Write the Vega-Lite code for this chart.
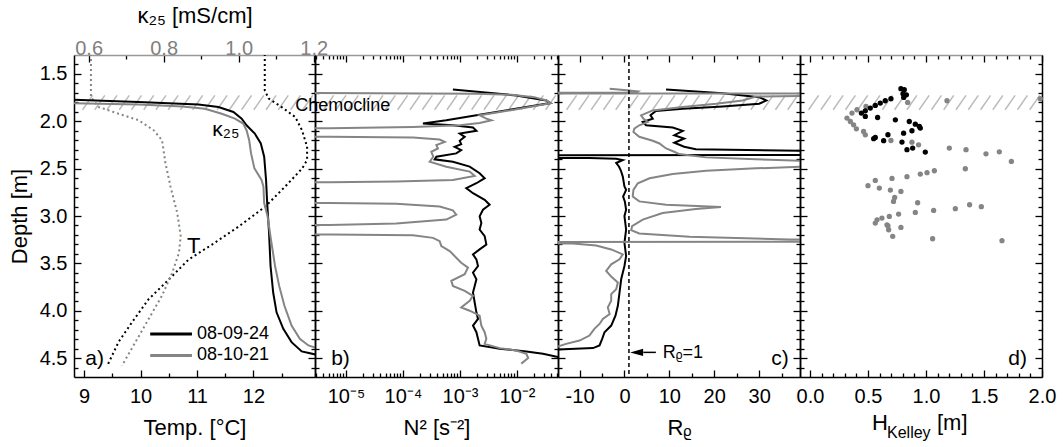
{
"$schema": "https://vega.github.io/schema/vega-lite/v6.json",
"padding": {"left": 8, "top": 4, "right": 2, "bottom": 5},
"spacing": 0,
"bounds": "flush",
"config": {
  "font": "Liberation Sans",
  "view": {"stroke": null},
  "axis": {"labelFontSize": 20, "titleFontSize": 22, "labelColor": "black", "titleColor": "black", "tickColor": "black", "domainColor": "black", "tickWidth": 1.3, "domainWidth": 1.5, "grid": false, "labelFlush": false, "labelOverlap": false, "titleFontWeight": "normal", "labelFont": "Liberation Sans", "titleFont": "Liberation Sans"},
  "text": {"font": "Liberation Sans"}
},
"datasets": {
  "hatch": [{"i":0},{"i":1},{"i":2},{"i":3},{"i":4},{"i":5},{"i":6},{"i":7},{"i":8},{"i":9},{"i":10},{"i":11},{"i":12},{"i":13},{"i":14},{"i":15},{"i":16},{"i":17},{"i":18},{"i":19}],
  "temp": [
    {"date":"08-09-24","depth":1.29,"t":12.2},{"date":"08-09-24","depth":1.675,"t":12.2},{"date":"08-09-24","depth":1.76,"t":12.27},{"date":"08-09-24","depth":1.85,"t":12.5},{"date":"08-09-24","depth":1.955,"t":12.74},{"date":"08-09-24","depth":2.094,"t":12.86},{"date":"08-09-24","depth":2.27,"t":12.95},{"date":"08-09-24","depth":2.41,"t":12.95},{"date":"08-09-24","depth":2.5,"t":12.86},{"date":"08-09-24","depth":2.69,"t":12.56},{"date":"08-09-24","depth":2.9,"t":12.21},{"date":"08-09-24","depth":3.11,"t":11.74},{"date":"08-09-24","depth":3.3,"t":11.27},{"date":"08-09-24","depth":3.46,"t":10.85},{"date":"08-09-24","depth":3.67,"t":10.5},{"date":"08-09-24","depth":3.88,"t":10.14},{"date":"08-09-24","depth":4.12,"t":9.85},{"date":"08-09-24","depth":4.33,"t":9.61},{"date":"08-09-24","depth":4.58,"t":9.41},
    {"date":"08-10-21","depth":1.29,"t":9.12},{"date":"08-10-21","depth":1.745,"t":9.12},{"date":"08-10-21","depth":1.85,"t":9.26},{"date":"08-10-21","depth":1.92,"t":9.61},{"date":"08-10-21","depth":1.99,"t":9.97},{"date":"08-10-21","depth":2.094,"t":10.23},{"date":"08-10-21","depth":2.2,"t":10.38},{"date":"08-10-21","depth":2.44,"t":10.44},{"date":"08-10-21","depth":2.69,"t":10.53},{"date":"08-10-21","depth":2.97,"t":10.65},{"date":"08-10-21","depth":3.21,"t":10.71},{"date":"08-10-21","depth":3.39,"t":10.68},{"date":"08-10-21","depth":3.6,"t":10.56},{"date":"08-10-21","depth":3.84,"t":10.38},{"date":"08-10-21","depth":4.09,"t":10.14},{"date":"08-10-21","depth":4.33,"t":9.91},{"date":"08-10-21","depth":4.58,"t":9.67}
  ],
  "kappa": [
    {"date":"08-09-24","depth":1.773,"k":0.555},{"date":"08-09-24","depth":1.797,"k":0.733},{"date":"08-09-24","depth":1.822,"k":0.893},{"date":"08-09-24","depth":1.85,"k":0.946},{"date":"08-09-24","depth":1.902,"k":0.986},{"date":"08-09-24","depth":1.972,"k":1.008},{"date":"08-09-24","depth":2.042,"k":1.021},{"date":"08-09-24","depth":2.129,"k":1.043},{"date":"08-09-24","depth":2.234,"k":1.059},{"date":"08-09-24","depth":2.374,"k":1.068},{"date":"08-09-24","depth":2.619,"k":1.073},{"date":"08-09-24","depth":2.864,"k":1.076},{"date":"08-09-24","depth":3.178,"k":1.081},{"date":"08-09-24","depth":3.528,"k":1.085},{"date":"08-09-24","depth":3.808,"k":1.092},{"date":"08-09-24","depth":4.017,"k":1.101},{"date":"08-09-24","depth":4.192,"k":1.119},{"date":"08-09-24","depth":4.332,"k":1.141},{"date":"08-09-24","depth":4.43,"k":1.168},{"date":"08-09-24","depth":4.465,"k":1.208},
    {"date":"08-10-21","depth":1.808,"k":0.555},{"date":"08-10-21","depth":1.822,"k":0.733},{"date":"08-10-21","depth":1.845,"k":0.85},{"date":"08-10-21","depth":1.867,"k":0.91},{"date":"08-10-21","depth":1.92,"k":0.955},{"date":"08-10-21","depth":1.972,"k":0.99},{"date":"08-10-21","depth":2.024,"k":1.012},{"date":"08-10-21","depth":2.094,"k":1.021},{"date":"08-10-21","depth":2.199,"k":1.028},{"date":"08-10-21","depth":2.339,"k":1.033},{"date":"08-10-21","depth":2.497,"k":1.042},{"date":"08-10-21","depth":2.619,"k":1.061},{"date":"08-10-21","depth":2.689,"k":1.066},{"date":"08-10-21","depth":2.864,"k":1.068},{"date":"08-10-21","depth":3.003,"k":1.077},{"date":"08-10-21","depth":3.248,"k":1.086},{"date":"08-10-21","depth":3.528,"k":1.097},{"date":"08-10-21","depth":3.738,"k":1.108},{"date":"08-10-21","depth":3.948,"k":1.122},{"date":"08-10-21","depth":4.157,"k":1.141},{"date":"08-10-21","depth":4.297,"k":1.163},{"date":"08-10-21","depth":4.367,"k":1.186},{"date":"08-10-21","depth":4.395,"k":1.208}
  ],
  "n2": [
    {"date":"08-09-24","depth":1.664,"n2":7.5e-4},{"date":"08-09-24","depth":1.727,"n2":9.7e-3},{"date":"08-09-24","depth":1.78,"n2":0.0327},{"date":"08-09-24","depth":1.808,"n2":0.0385},{"date":"08-09-24","depth":1.85,"n2":0.0146},{"date":"08-09-24","depth":1.937,"n2":1.94e-3},{"date":"08-09-24","depth":1.99,"n2":5.75e-4},{"date":"08-09-24","depth":2.024,"n2":2.24e-4},{"date":"08-09-24","depth":2.042,"n2":7.5e-4},{"date":"08-09-24","depth":2.066,"n2":1.69e-3},{"date":"08-09-24","depth":2.101,"n2":1.94e-3},{"date":"08-09-24","depth":2.129,"n2":9.9e-4},{"date":"08-09-24","depth":2.164,"n2":1.21e-3},{"date":"08-09-24","depth":2.206,"n2":9.9e-4},{"date":"08-09-24","depth":2.241,"n2":1.05e-3},{"date":"08-09-24","depth":2.269,"n2":8.05e-4},{"date":"08-09-24","depth":2.304,"n2":1.05e-3},{"date":"08-09-24","depth":2.339,"n2":8.6e-4},{"date":"08-09-24","depth":2.374,"n2":3.85e-4},{"date":"08-09-24","depth":2.402,"n2":3.6e-4},{"date":"08-09-24","depth":2.427,"n2":7.5e-4},{"date":"08-09-24","depth":2.479,"n2":1.48e-3},{"date":"08-09-24","depth":2.549,"n2":2.21e-3},{"date":"08-09-24","depth":2.601,"n2":2.71e-3},{"date":"08-09-24","depth":2.654,"n2":1.94e-3},{"date":"08-09-24","depth":2.706,"n2":1.29e-3},{"date":"08-09-24","depth":2.759,"n2":1.69e-3},{"date":"08-09-24","depth":2.829,"n2":2.71e-3},{"date":"08-09-24","depth":2.881,"n2":3.31e-3},{"date":"08-09-24","depth":2.934,"n2":2.53e-3},{"date":"08-09-24","depth":3.003,"n2":2.21e-3},{"date":"08-09-24","depth":3.073,"n2":2.37e-3},{"date":"08-09-24","depth":3.143,"n2":2.21e-3},{"date":"08-09-24","depth":3.213,"n2":2.71e-3},{"date":"08-09-24","depth":3.301,"n2":2.9e-3},{"date":"08-09-24","depth":3.353,"n2":2.21e-3},{"date":"08-09-24","depth":3.406,"n2":1.69e-3},{"date":"08-09-24","depth":3.458,"n2":1.94e-3},{"date":"08-09-24","depth":3.528,"n2":2.07e-3},{"date":"08-09-24","depth":3.598,"n2":1.69e-3},{"date":"08-09-24","depth":3.668,"n2":1.94e-3},{"date":"08-09-24","depth":3.738,"n2":1.81e-3},{"date":"08-09-24","depth":3.808,"n2":1.69e-3},{"date":"08-09-24","depth":3.913,"n2":1.81e-3},{"date":"08-09-24","depth":4.017,"n2":1.94e-3},{"date":"08-09-24","depth":4.087,"n2":2.07e-3},{"date":"08-09-24","depth":4.157,"n2":1.69e-3},{"date":"08-09-24","depth":4.227,"n2":1.94e-3},{"date":"08-09-24","depth":4.297,"n2":2.07e-3},{"date":"08-09-24","depth":4.367,"n2":2.21e-3},{"date":"08-09-24","depth":4.402,"n2":4.97e-3},{"date":"08-09-24","depth":4.43,"n2":0.0146},{"date":"08-09-24","depth":4.455,"n2":0.0286},{"date":"08-09-24","depth":4.49,"n2":0.0524},{"date":"08-09-24","depth":4.5,"n2":0.06},
    {"date":"08-10-21","depth":1.7,"n2":1e-8},{"date":"08-10-21","depth":1.703,"n2":3e-5},{"date":"08-10-21","depth":1.708,"n2":2e-3},{"date":"08-10-21","depth":1.72,"n2":8e-3},{"date":"08-10-21","depth":1.745,"n2":0.02},{"date":"08-10-21","depth":1.78,"n2":0.033},{"date":"08-10-21","depth":1.808,"n2":0.0385},{"date":"08-10-21","depth":1.85,"n2":0.0166},{"date":"08-10-21","depth":1.902,"n2":4.97e-3},{"date":"08-10-21","depth":1.937,"n2":2.21e-3},{"date":"08-10-21","depth":1.972,"n2":2.9e-3},{"date":"08-10-21","depth":1.99,"n2":3.55e-3},{"date":"08-10-21","depth":2.017,"n2":2.21e-3},{"date":"08-10-21","depth":2.042,"n2":9.9e-4},{"date":"08-10-21","depth":2.059,"n2":1.5e-4},{"date":"08-10-21","depth":2.073,"n2":5.2e-6},{"date":"08-10-21","depth":2.077,"n2":1e-8},{"date":"08-10-21","depth":2.16,"n2":1e-8},{"date":"08-10-21","depth":2.164,"n2":5.2e-6},{"date":"08-10-21","depth":2.171,"n2":1.5e-4},{"date":"08-10-21","depth":2.192,"n2":4.4e-4},{"date":"08-10-21","depth":2.217,"n2":5.4e-4},{"date":"08-10-21","depth":2.252,"n2":3.85e-4},{"date":"08-10-21","depth":2.287,"n2":4.1e-4},{"date":"08-10-21","depth":2.322,"n2":3.14e-4},{"date":"08-10-21","depth":2.374,"n2":3.4e-4},{"date":"08-10-21","depth":2.427,"n2":2.94e-4},{"date":"08-10-21","depth":2.479,"n2":5.75e-4},{"date":"08-10-21","depth":2.531,"n2":1.48e-3},{"date":"08-10-21","depth":2.577,"n2":1.81e-3},{"date":"08-10-21","depth":2.619,"n2":7.5e-4},{"date":"08-10-21","depth":2.636,"n2":7.6e-5},{"date":"08-10-21","depth":2.643,"n2":5.2e-6},{"date":"08-10-21","depth":2.647,"n2":1e-8},{"date":"08-10-21","depth":2.86,"n2":1e-8},{"date":"08-10-21","depth":2.864,"n2":5.2e-6},{"date":"08-10-21","depth":2.871,"n2":7.6e-5},{"date":"08-10-21","depth":2.899,"n2":4.4e-4},{"date":"08-10-21","depth":2.941,"n2":7.5e-4},{"date":"08-10-21","depth":2.986,"n2":8.6e-4},{"date":"08-10-21","depth":3.038,"n2":5.75e-4},{"date":"08-10-21","depth":3.08,"n2":7.6e-5},{"date":"08-10-21","depth":3.094,"n2":5.2e-6},{"date":"08-10-21","depth":3.098,"n2":1e-8},{"date":"08-10-21","depth":3.19,"n2":1e-8},{"date":"08-10-21","depth":3.196,"n2":5.2e-6},{"date":"08-10-21","depth":3.203,"n2":1.5e-4},{"date":"08-10-21","depth":3.231,"n2":3.36e-4},{"date":"08-10-21","depth":3.266,"n2":4.4e-4},{"date":"08-10-21","depth":3.318,"n2":4.7e-4},{"date":"08-10-21","depth":3.371,"n2":6.6e-4},{"date":"08-10-21","depth":3.44,"n2":8.6e-4},{"date":"08-10-21","depth":3.493,"n2":1.05e-3},{"date":"08-10-21","depth":3.545,"n2":1.38e-3},{"date":"08-10-21","depth":3.615,"n2":1.21e-3},{"date":"08-10-21","depth":3.685,"n2":7.05e-4},{"date":"08-10-21","depth":3.738,"n2":7.5e-4},{"date":"08-10-21","depth":3.79,"n2":1.21e-3},{"date":"08-10-21","depth":3.843,"n2":1.69e-3},{"date":"08-10-21","depth":3.895,"n2":1.48e-3},{"date":"08-10-21","depth":3.965,"n2":1.05e-3},{"date":"08-10-21","depth":4.0,"n2":1.48e-3},{"date":"08-10-21","depth":4.052,"n2":2.21e-3},{"date":"08-10-21","depth":4.157,"n2":2.37e-3},{"date":"08-10-21","depth":4.227,"n2":2.71e-3},{"date":"08-10-21","depth":4.297,"n2":2.9e-3},{"date":"08-10-21","depth":4.35,"n2":2.71e-3},{"date":"08-10-21","depth":4.395,"n2":4.97e-3},{"date":"08-10-21","depth":4.42,"n2":9.7e-3},{"date":"08-10-21","depth":4.455,"n2":0.0146},{"date":"08-10-21","depth":4.5,"n2":0.0157},{"date":"08-10-21","depth":4.559,"n2":0.0119}
  ],
  "rrho": [
    {"date":"08-09-24","depth":1.664,"r":9.27},{"date":"08-09-24","depth":1.703,"r":21.86},{"date":"08-09-24","depth":1.745,"r":30.0},{"date":"08-09-24","depth":1.78,"r":31.6},{"date":"08-09-24","depth":1.815,"r":30.0},{"date":"08-09-24","depth":1.843,"r":21.86},{"date":"08-09-24","depth":1.867,"r":13.0},{"date":"08-09-24","depth":1.892,"r":7.0},{"date":"08-09-24","depth":1.937,"r":5.8},{"date":"08-09-24","depth":1.972,"r":6.3},{"date":"08-09-24","depth":2.007,"r":4.07},{"date":"08-09-24","depth":2.042,"r":4.82},{"date":"08-09-24","depth":2.066,"r":10.75},{"date":"08-09-24","depth":2.101,"r":13.0},{"date":"08-09-24","depth":2.147,"r":11.1},{"date":"08-09-24","depth":2.182,"r":13.3},{"date":"08-09-24","depth":2.227,"r":11.1},{"date":"08-09-24","depth":2.269,"r":13.3},{"date":"08-09-24","depth":2.294,"r":15.9},{"date":"08-09-24","depth":2.311,"r":39.6},{"date":"08-09-24","depth":2.315,"r":80},{"date":"08-09-24","depth":2.355,"r":80},{"date":"08-09-24","depth":2.36,"r":-60},{"date":"08-09-24","depth":2.383,"r":-60},{"date":"08-09-24","depth":2.388,"r":-7.8},{"date":"08-09-24","depth":2.395,"r":-1.84},{"date":"08-09-24","depth":2.409,"r":-0.37},{"date":"08-09-24","depth":2.44,"r":-1.84},{"date":"08-09-24","depth":2.48,"r":-1.2},{"date":"08-09-24","depth":2.52,"r":-0.8},{"date":"08-09-24","depth":2.584,"r":-0.37},{"date":"08-09-24","depth":2.689,"r":0.0},{"date":"08-09-24","depth":2.724,"r":0.37},{"date":"08-09-24","depth":2.794,"r":-0.3},{"date":"08-09-24","depth":2.85,"r":0.1},{"date":"08-09-24","depth":2.934,"r":0.37},{"date":"08-09-24","depth":3.0,"r":0.0},{"date":"08-09-24","depth":3.143,"r":0.37},{"date":"08-09-24","depth":3.283,"r":0.0},{"date":"08-09-24","depth":3.423,"r":0.37},{"date":"08-09-24","depth":3.528,"r":0.0},{"date":"08-09-24","depth":3.668,"r":-0.73},{"date":"08-09-24","depth":3.808,"r":-1.1},{"date":"08-09-24","depth":3.948,"r":-1.47},{"date":"08-09-24","depth":4.052,"r":-2.0},{"date":"08-09-24","depth":4.157,"r":-2.95},{"date":"08-09-24","depth":4.227,"r":-4.44},{"date":"08-09-24","depth":4.297,"r":-4.96},{"date":"08-09-24","depth":4.367,"r":-5.55},{"date":"08-09-24","depth":4.395,"r":-7.0},{"date":"08-09-24","depth":4.409,"r":-15.2},{"date":"08-09-24","depth":4.412,"r":-20},
    {"date":"08-10-21","depth":1.657,"r":-3.3},{"date":"08-10-21","depth":1.672,"r":0.5},{"date":"08-10-21","depth":1.685,"r":3.0},{"date":"08-10-21","depth":1.698,"r":2.5},{"date":"08-10-21","depth":1.7,"r":-60},{"date":"08-10-21","depth":1.705,"r":-60},{"date":"08-10-21","depth":1.708,"r":80},{"date":"08-10-21","depth":1.715,"r":80},{"date":"08-10-21","depth":1.738,"r":29.3},{"date":"08-10-21","depth":1.78,"r":26.3},{"date":"08-10-21","depth":1.815,"r":20.4},{"date":"08-10-21","depth":1.85,"r":13.0},{"date":"08-10-21","depth":1.885,"r":6.3},{"date":"08-10-21","depth":1.937,"r":3.7},{"date":"08-10-21","depth":1.972,"r":4.2},{"date":"08-10-21","depth":2.007,"r":5.2},{"date":"08-10-21","depth":2.042,"r":3.3},{"date":"08-10-21","depth":2.077,"r":2.2},{"date":"08-10-21","depth":2.112,"r":2.0},{"date":"08-10-21","depth":2.164,"r":3.3},{"date":"08-10-21","depth":2.206,"r":6.3},{"date":"08-10-21","depth":2.234,"r":7.8},{"date":"08-10-21","depth":2.287,"r":9.27},{"date":"08-10-21","depth":2.322,"r":11.1},{"date":"08-10-21","depth":2.346,"r":12.2},{"date":"08-10-21","depth":2.381,"r":18.2},{"date":"08-10-21","depth":2.402,"r":29.3},{"date":"08-10-21","depth":2.416,"r":39.6},{"date":"08-10-21","depth":2.42,"r":80},{"date":"08-10-21","depth":2.475,"r":80},{"date":"08-10-21","depth":2.479,"r":39.6},{"date":"08-10-21","depth":2.497,"r":29.3},{"date":"08-10-21","depth":2.521,"r":18.2},{"date":"08-10-21","depth":2.556,"r":10.75},{"date":"08-10-21","depth":2.601,"r":5.6},{"date":"08-10-21","depth":2.654,"r":2.97},{"date":"08-10-21","depth":2.724,"r":2.0},{"date":"08-10-21","depth":2.794,"r":1.85},{"date":"08-10-21","depth":2.846,"r":3.3},{"date":"08-10-21","depth":2.881,"r":9.27},{"date":"08-10-21","depth":2.906,"r":21.5},{"date":"08-10-21","depth":2.927,"r":15.9},{"date":"08-10-21","depth":2.969,"r":8.5},{"date":"08-10-21","depth":3.038,"r":4.07},{"date":"08-10-21","depth":3.108,"r":1.7},{"date":"08-10-21","depth":3.15,"r":1.5},{"date":"08-10-21","depth":3.185,"r":3.3},{"date":"08-10-21","depth":3.22,"r":14.5},{"date":"08-10-21","depth":3.248,"r":36.7},{"date":"08-10-21","depth":3.25,"r":80},{"date":"08-10-21","depth":3.27,"r":80},{"date":"08-10-21","depth":3.275,"r":-60},{"date":"08-10-21","depth":3.285,"r":-60},{"date":"08-10-21","depth":3.29,"r":-11.5},{"date":"08-10-21","depth":3.311,"r":-6.3},{"date":"08-10-21","depth":3.353,"r":-2.95},{"date":"08-10-21","depth":3.406,"r":-0.37},{"date":"08-10-21","depth":3.458,"r":-1.1},{"date":"08-10-21","depth":3.51,"r":-2.95},{"date":"08-10-21","depth":3.58,"r":-4.07},{"date":"08-10-21","depth":3.64,"r":-2.95},{"date":"08-10-21","depth":3.703,"r":-1.47},{"date":"08-10-21","depth":3.773,"r":-1.84},{"date":"08-10-21","depth":3.825,"r":-2.95},{"date":"08-10-21","depth":3.895,"r":-2.95},{"date":"08-10-21","depth":3.965,"r":-3.7},{"date":"08-10-21","depth":4.035,"r":-3.3},{"date":"08-10-21","depth":4.087,"r":-4.81},{"date":"08-10-21","depth":4.14,"r":-5.55},{"date":"08-10-21","depth":4.192,"r":-6.7},{"date":"08-10-21","depth":4.262,"r":-7.8},{"date":"08-10-21","depth":4.315,"r":-10.0},{"date":"08-10-21","depth":4.35,"r":-13.0},{"date":"08-10-21","depth":4.385,"r":-15.2},{"date":"08-10-21","depth":4.39,"r":-20}
  ],
  "hk": [
    {"date":"08-10-21","depth":1.762,"h":1.985},{"date":"08-10-21","depth":1.783,"h":1.181},{"date":"08-10-21","depth":1.801,"h":0.842},{"date":"08-10-21","depth":1.843,"h":0.483},{"date":"08-10-21","depth":1.878,"h":0.405},{"date":"08-10-21","depth":1.913,"h":0.362},{"date":"08-10-21","depth":1.966,"h":0.319},{"date":"08-10-21","depth":2.002,"h":0.348},{"date":"08-10-21","depth":2.037,"h":0.376},{"date":"08-10-21","depth":2.079,"h":0.4},{"date":"08-10-21","depth":2.107,"h":0.462},{"date":"08-10-21","depth":2.143,"h":0.477},{"date":"08-10-21","depth":2.203,"h":0.698},{"date":"08-10-21","depth":2.22,"h":0.879},{"date":"08-10-21","depth":2.248,"h":0.936},{"date":"08-10-21","depth":2.283,"h":1.201},{"date":"08-10-21","depth":2.3,"h":1.345},{"date":"08-10-21","depth":2.343,"h":1.517},{"date":"08-10-21","depth":2.322,"h":1.632},{"date":"08-10-21","depth":2.424,"h":1.736},{"date":"08-10-21","depth":2.501,"h":1.339},{"date":"08-10-21","depth":2.522,"h":1.072},{"date":"08-10-21","depth":2.543,"h":1.009},{"date":"08-10-21","depth":2.557,"h":0.951},{"date":"08-10-21","depth":2.585,"h":0.836},{"date":"08-10-21","depth":2.603,"h":0.707},{"date":"08-10-21","depth":2.624,"h":0.563},{"date":"08-10-21","depth":2.68,"h":0.5},{"date":"08-10-21","depth":2.705,"h":0.598},{"date":"08-10-21","depth":2.726,"h":0.693},{"date":"08-10-21","depth":2.74,"h":0.784},{"date":"08-10-21","depth":2.804,"h":0.73},{"date":"08-10-21","depth":2.846,"h":0.72},{"date":"08-10-21","depth":2.86,"h":0.928},{"date":"08-10-21","depth":2.962,"h":0.908},{"date":"08-10-21","depth":2.941,"h":1.066},{"date":"08-10-21","depth":2.923,"h":1.253},{"date":"08-10-21","depth":2.881,"h":1.376},{"date":"08-10-21","depth":2.902,"h":1.477},{"date":"08-10-21","depth":2.98,"h":0.764},{"date":"08-10-21","depth":3.005,"h":0.684},{"date":"08-10-21","depth":3.022,"h":0.62},{"date":"08-10-21","depth":3.04,"h":0.578},{"date":"08-10-21","depth":3.075,"h":0.563},{"date":"08-10-21","depth":3.093,"h":0.664},{"date":"08-10-21","depth":3.104,"h":0.672},{"date":"08-10-21","depth":3.121,"h":0.784},{"date":"08-10-21","depth":3.145,"h":0.678},{"date":"08-10-21","depth":3.215,"h":0.713},{"date":"08-10-21","depth":3.24,"h":1.057},{"date":"08-10-21","depth":3.261,"h":1.655},
    {"date":"08-09-24","depth":1.656,"h":0.784},{"date":"08-09-24","depth":1.667,"h":0.813},{"date":"08-09-24","depth":1.709,"h":0.802},{"date":"08-09-24","depth":1.72,"h":0.831},{"date":"08-09-24","depth":1.748,"h":0.808},{"date":"08-09-24","depth":1.762,"h":0.698},{"date":"08-09-24","depth":1.783,"h":0.649},{"date":"08-09-24","depth":1.808,"h":0.606},{"date":"08-09-24","depth":1.832,"h":0.563},{"date":"08-09-24","depth":1.86,"h":0.52},{"date":"08-09-24","depth":1.889,"h":0.477},{"date":"08-09-24","depth":1.913,"h":0.443},{"date":"08-09-24","depth":1.949,"h":0.477},{"date":"08-09-24","depth":1.96,"h":0.583},{"date":"08-09-24","depth":1.984,"h":0.736},{"date":"08-09-24","depth":2.002,"h":0.856},{"date":"08-09-24","depth":2.03,"h":0.908},{"date":"08-09-24","depth":2.054,"h":0.943},{"date":"08-09-24","depth":2.072,"h":0.951},{"date":"08-09-24","depth":2.1,"h":0.879},{"date":"08-09-24","depth":2.125,"h":0.807},{"date":"08-09-24","depth":2.142,"h":0.672},{"date":"08-09-24","depth":2.17,"h":0.563},{"date":"08-09-24","depth":2.184,"h":0.549},{"date":"08-09-24","depth":2.205,"h":0.635},{"date":"08-09-24","depth":2.219,"h":0.793},{"date":"08-09-24","depth":2.283,"h":0.885},{"date":"08-09-24","depth":2.3,"h":0.836},{"date":"08-09-24","depth":2.325,"h":0.994}
  ]
},
"hconcat": [
  {
    "width": 241, "height": 322,
    "layer": [
      {"data": {"name": "hatch"}, "mark": {"type": "rule", "color": "#bbbbbb", "strokeWidth": 1.5, "x2Offset": 10, "clip": true},
       "encoding": {"x": {"field": "i", "type": "quantitative", "scale": {"domain": [-0.7, 19], "nice": false, "zero": false}, "axis": null}, "x2": {"field": "i"},
        "y": {"datum": 1.878, "type": "quantitative", "scale": {"domain": [1.3, 4.7], "reverse": true, "nice": false, "zero": false}, "axis": null}, "y2": {"datum": 1.727}}},
      {"layer": [
        {"data": {"name": "temp"}, "mark": {"type": "line", "strokeDash": [2, 3], "strokeWidth": 2, "clip": true},
         "encoding": {
          "x": {"field": "t", "type": "quantitative", "scale": {"domain": [8.82, 13.09], "nice": false, "zero": false},
                "axis": {"orient": "bottom", "title": "Temp. [°C]", "values": [9, 9.5, 10, 10.5, 11, 11.5, 12, 12.5], "labelExpr": "datum.value % 1 == 0 ? format(datum.value, 'd') : ''", "tickSize": {"condition": {"test": "datum.value % 1 == 0", "value": -7}, "value": -4}, "labelPadding": 16, "titlePadding": 8}},
          "y": {"field": "depth", "type": "quantitative", "scale": {"domain": [1.3, 4.7], "reverse": true, "nice": false, "zero": false},
                "axis": {"orient": "left", "title": "Depth [m]", "values": [1.4,1.5,1.6,1.7,1.8,1.9,2.0,2.1,2.2,2.3,2.4,2.5,2.6,2.7,2.8,2.9,3.0,3.1,3.2,3.3,3.4,3.5,3.6,3.7,3.8,3.9,4.0,4.1,4.2,4.3,4.4,4.5,4.6], "labelExpr": "round(datum.value*10) % 5 == 0 ? format(datum.value, '.1f') : ''", "tickSize": {"condition": {"test": "round(datum.value*10) % 5 == 0", "value": -7}, "value": -4}, "labelPadding": 14, "titlePadding": 8}},
          "color": {"field": "date", "type": "nominal", "scale": {"domain": ["08-09-24", "08-10-21"], "range": ["#000000", "#858585"]}, "legend": null},
          "order": {"value": null}
         }},
        {"data": {"values": [{}]}, "mark": {"type": "text", "fontSize": 21, "align": "left", "baseline": "alphabetic"},
         "encoding": {"x": {"datum": 11.27, "axis": null}, "y": {"datum": 2.156, "axis": null}, "text": {"value": "κ₂₅"}}},
        {"data": {"values": [{}]}, "mark": {"type": "text", "fontSize": 22, "align": "left", "baseline": "alphabetic"},
         "encoding": {"x": {"datum": 10.82, "axis": null}, "y": {"datum": 3.39, "axis": null}, "text": {"value": "T"}}},
        {"data": {"values": [{}]}, "mark": {"type": "text", "fontSize": 21, "align": "left", "baseline": "alphabetic"},
         "encoding": {"x": {"datum": 9.02, "axis": null}, "y": {"datum": 4.571, "axis": null}, "text": {"value": "a)"}}},
        {"data": {"values": [{}]}, "mark": {"type": "rule", "color": "#000000", "strokeWidth": 3},
         "encoding": {"x": {"datum": 10.17, "axis": null}, "x2": {"datum": 10.91}, "y": {"datum": 4.245, "axis": null}}},
        {"data": {"values": [{}]}, "mark": {"type": "rule", "color": "#858585", "strokeWidth": 3},
         "encoding": {"x": {"datum": 10.17, "axis": null}, "x2": {"datum": 10.91}, "y": {"datum": 4.472, "axis": null}}},
        {"data": {"values": [{}]}, "mark": {"type": "text", "fontSize": 18, "align": "left", "baseline": "middle"},
         "encoding": {"x": {"datum": 11.0, "axis": null}, "y": {"datum": 4.245, "axis": null}, "text": {"value": "08-09-24"}}},
        {"data": {"values": [{}]}, "mark": {"type": "text", "fontSize": 18, "align": "left", "baseline": "middle"},
         "encoding": {"x": {"datum": 11.0, "axis": null}, "y": {"datum": 4.472, "axis": null}, "text": {"value": "08-10-21"}}}
      ], "resolve": {"axis": {"x": "independent", "y": "independent"}}},
      {"data": {"name": "kappa"}, "mark": {"type": "line", "strokeWidth": 2, "clip": true},
       "encoding": {
        "x": {"field": "k", "type": "quantitative", "scale": {"domain": [0.561, 1.2035], "nice": false, "zero": false},
              "axis": {"orient": "top", "title": "κ₂₅ [mS/cm]", "values": [0.6, 0.7, 0.8, 0.9, 1.0, 1.1, 1.2], "labelExpr": "round(datum.value*10) % 2 == 0 ? format(datum.value, '.1f') : ''", "tickSize": {"condition": {"test": "round(datum.value*10) % 2 == 0", "value": -7}, "value": -4}, "labelPadding": 4, "titlePadding": 8, "labelColor": "#7f7f7f", "domainColor": "#999999"}},
        "y": {"field": "depth", "type": "quantitative", "scale": {"domain": [1.3, 4.7], "reverse": true, "nice": false, "zero": false},
              "axis": {"orient": "right", "title": null, "labels": false, "values": [1.4,1.5,1.6,1.7,1.8,1.9,2.0,2.1,2.2,2.3,2.4,2.5,2.6,2.7,2.8,2.9,3.0,3.1,3.2,3.3,3.4,3.5,3.6,3.7,3.8,3.9,4.0,4.1,4.2,4.3,4.4,4.5,4.6], "tickSize": {"condition": {"test": "round(datum.value*10) % 5 == 0", "value": -7}, "value": -4}}},
        "color": {"field": "date", "type": "nominal", "scale": {"domain": ["08-09-24", "08-10-21"], "range": ["#000000", "#858585"]}, "legend": null},
        "order": {"value": null}
       }}
    ],
    "resolve": {"scale": {"x": "independent"}, "axis": {"x": "independent", "y": "independent"}}
  },
  {
    "width": 243, "height": 322,
    "layer": [
      {"data": {"name": "hatch"}, "mark": {"type": "rule", "color": "#bbbbbb", "strokeWidth": 1.5, "x2Offset": 10, "clip": true},
       "encoding": {"x": {"field": "i", "type": "quantitative", "scale": {"domain": [-0.7, 19], "nice": false, "zero": false}, "axis": null}, "x2": {"field": "i"},
        "y": {"datum": 1.878, "type": "quantitative", "scale": {"domain": [1.3, 4.7], "reverse": true, "nice": false, "zero": false}, "axis": null}, "y2": {"datum": 1.727}}},
      {"layer": [
        {"data": {"name": "n2"}, "mark": {"type": "line", "strokeWidth": 2, "clip": true},
         "encoding": {
          "x": {"field": "n2", "type": "quantitative", "scale": {"type": "log", "domain": [2.86e-6, 0.0524], "nice": false},
                "axis": {"orient": "bottom", "title": "N² [s⁻²]", "values": [3e-6,4e-6,5e-6,6e-6,7e-6,8e-6,9e-6,1e-5,2e-5,3e-5,4e-5,5e-5,6e-5,7e-5,8e-5,9e-5,1e-4,2e-4,3e-4,4e-4,5e-4,6e-4,7e-4,8e-4,9e-4,1e-3,2e-3,3e-3,4e-3,5e-3,6e-3,7e-3,8e-3,9e-3,1e-2,2e-2,3e-2,4e-2,5e-2], "labelExpr": "abs(datum.value-1e-5)<1e-10 ? '10⁻⁵' : abs(datum.value-1e-4)<1e-9 ? '10⁻⁴' : abs(datum.value-1e-3)<1e-8 ? '10⁻³' : abs(datum.value-1e-2)<1e-7 ? '10⁻²' : ''", "tickSize": {"condition": {"test": "abs(log(datum.value)/LN10 - round(log(datum.value)/LN10)) < 0.001", "value": -7}, "value": -4}, "labelPadding": 16, "titlePadding": 8}},
          "y": {"field": "depth", "type": "quantitative", "scale": {"domain": [1.3, 4.7], "reverse": true, "nice": false, "zero": false},
                "axis": {"orient": "left", "title": null, "labels": false, "values": [1.4,1.5,1.6,1.7,1.8,1.9,2.0,2.1,2.2,2.3,2.4,2.5,2.6,2.7,2.8,2.9,3.0,3.1,3.2,3.3,3.4,3.5,3.6,3.7,3.8,3.9,4.0,4.1,4.2,4.3,4.4,4.5,4.6], "tickSize": {"condition": {"test": "round(datum.value*10) % 5 == 0", "value": -7}, "value": -4}}},
          "color": {"field": "date", "type": "nominal", "scale": {"domain": ["08-09-24", "08-10-21"], "range": ["#000000", "#858585"]}, "legend": null},
          "order": {"value": null}
         }},
        {"data": {"name": "n2"}, "mark": {"type": "point", "opacity": 0},
         "encoding": {
          "x": {"field": "n2", "type": "quantitative", "scale": {"type": "log", "domain": [2.86e-6, 0.0524], "nice": false},
                "axis": {"orient": "top", "title": null, "labels": false, "domainColor": "#999999", "values": [3e-6,4e-6,5e-6,6e-6,7e-6,8e-6,9e-6,1e-5,2e-5,3e-5,4e-5,5e-5,6e-5,7e-5,8e-5,9e-5,1e-4,2e-4,3e-4,4e-4,5e-4,6e-4,7e-4,8e-4,9e-4,1e-3,2e-3,3e-3,4e-3,5e-3,6e-3,7e-3,8e-3,9e-3,1e-2,2e-2,3e-2,4e-2,5e-2], "tickSize": {"condition": {"test": "abs(log(datum.value)/LN10 - round(log(datum.value)/LN10)) < 0.001", "value": -7}, "value": -4}}},
          "y": {"field": "depth", "type": "quantitative", "scale": {"domain": [1.3, 4.7], "reverse": true, "nice": false, "zero": false},
                "axis": {"orient": "right", "title": null, "labels": false, "values": [1.4,1.5,1.6,1.7,1.8,1.9,2.0,2.1,2.2,2.3,2.4,2.5,2.6,2.7,2.8,2.9,3.0,3.1,3.2,3.3,3.4,3.5,3.6,3.7,3.8,3.9,4.0,4.1,4.2,4.3,4.4,4.5,4.6], "tickSize": {"condition": {"test": "round(datum.value*10) % 5 == 0", "value": -7}, "value": -4}}}
         }},
        {"data": {"values": [{}]}, "mark": {"type": "text", "fontSize": 18, "align": "left", "baseline": "alphabetic"},
         "encoding": {"x": {"datum": 1.29e-6, "axis": null}, "y": {"datum": 1.892, "axis": null}, "text": {"value": "Chemocline"}}},
        {"data": {"values": [{}]}, "mark": {"type": "text", "fontSize": 21, "align": "left", "baseline": "alphabetic"},
         "encoding": {"x": {"datum": 5.5e-6, "axis": null}, "y": {"datum": 4.571, "axis": null}, "text": {"value": "b)"}}}
      ], "resolve": {"axis": {"x": "independent", "y": "independent"}}}
    ],
    "resolve": {"scale": {"x": "independent"}, "axis": {"x": "independent", "y": "independent"}}
  },
  {
    "width": 242, "height": 322,
    "layer": [
      {"data": {"name": "hatch"}, "mark": {"type": "rule", "color": "#bbbbbb", "strokeWidth": 1.5, "x2Offset": 10, "clip": true},
       "encoding": {"x": {"field": "i", "type": "quantitative", "scale": {"domain": [-0.7, 19], "nice": false, "zero": false}, "axis": null}, "x2": {"field": "i"},
        "y": {"datum": 1.878, "type": "quantitative", "scale": {"domain": [1.3, 4.7], "reverse": true, "nice": false, "zero": false}, "axis": null}, "y2": {"datum": 1.727}}},
      {"layer": [
        {"data": {"name": "rrho"}, "mark": {"type": "line", "strokeWidth": 2, "clip": true},
         "encoding": {
          "x": {"field": "r", "type": "quantitative", "scale": {"domain": [-14.8, 39.1], "nice": false, "zero": false},
                "axis": {"orient": "bottom", "title": "Rᵨ", "values": [-10,-5,0,5,10,15,20,25,30,35], "labelExpr": "datum.value % 10 == 0 ? '' + datum.value : ''", "tickSize": {"condition": {"test": "datum.value % 10 == 0", "value": -7}, "value": -4}, "labelPadding": 16, "titlePadding": 8}},
          "y": {"field": "depth", "type": "quantitative", "scale": {"domain": [1.3, 4.7], "reverse": true, "nice": false, "zero": false},
                "axis": {"orient": "left", "title": null, "labels": false, "values": [1.4,1.5,1.6,1.7,1.8,1.9,2.0,2.1,2.2,2.3,2.4,2.5,2.6,2.7,2.8,2.9,3.0,3.1,3.2,3.3,3.4,3.5,3.6,3.7,3.8,3.9,4.0,4.1,4.2,4.3,4.4,4.5,4.6], "tickSize": {"condition": {"test": "round(datum.value*10) % 5 == 0", "value": -7}, "value": -4}}},
          "color": {"field": "date", "type": "nominal", "scale": {"domain": ["08-09-24", "08-10-21"], "range": ["#000000", "#858585"]}, "legend": null},
          "order": {"value": null}
         }},
        {"data": {"name": "rrho"}, "mark": {"type": "point", "opacity": 0},
         "encoding": {
          "x": {"field": "r", "type": "quantitative", "scale": {"domain": [-14.8, 39.1], "nice": false, "zero": false},
                "axis": {"orient": "top", "title": null, "labels": false, "domainColor": "#999999", "values": [-10,-5,0,5,10,15,20,25,30,35], "tickSize": {"condition": {"test": "datum.value % 10 == 0", "value": -7}, "value": -4}}},
          "y": {"field": "depth", "type": "quantitative", "scale": {"domain": [1.3, 4.7], "reverse": true, "nice": false, "zero": false},
                "axis": {"orient": "right", "title": null, "labels": false, "values": [1.4,1.5,1.6,1.7,1.8,1.9,2.0,2.1,2.2,2.3,2.4,2.5,2.6,2.7,2.8,2.9,3.0,3.1,3.2,3.3,3.4,3.5,3.6,3.7,3.8,3.9,4.0,4.1,4.2,4.3,4.4,4.5,4.6], "tickSize": {"condition": {"test": "round(datum.value*10) % 5 == 0", "value": -7}, "value": -4}}}
         }},
        {"data": {"values": [{}]}, "mark": {"type": "rule", "color": "#000000", "strokeWidth": 1.5, "strokeDash": [4, 3]},
         "encoding": {"x": {"datum": 1, "axis": null}}},
        {"data": {"values": [{}]}, "mark": {"type": "rule", "color": "#000000", "strokeWidth": 1.5},
         "encoding": {"x": {"datum": 4.2, "axis": null}, "x2": {"datum": 7.0}, "y": {"datum": 4.44, "axis": null}}},
        {"data": {"values": [{}]}, "mark": {"type": "point", "shape": "M-1,0L1,-0.55L1,0.55Z", "size": 169, "filled": true, "color": "#000000", "opacity": 1},
         "encoding": {"x": {"datum": 2.71, "axis": null}, "y": {"datum": 4.44, "axis": null}}},
        {"data": {"values": [{}]}, "mark": {"type": "text", "fontSize": 18, "align": "left", "baseline": "alphabetic"},
         "encoding": {"x": {"datum": 8.53, "axis": null}, "y": {"datum": 4.5, "axis": null}, "text": {"value": "Rᵨ=1"}}},
        {"data": {"values": [{}]}, "mark": {"type": "text", "fontSize": 21, "align": "right", "baseline": "alphabetic"},
         "encoding": {"x": {"datum": 36.6, "axis": null}, "y": {"datum": 4.571, "axis": null}, "text": {"value": "c)"}}}
      ], "resolve": {"axis": {"x": "independent", "y": "independent"}}}
    ],
    "resolve": {"scale": {"x": "independent"}, "axis": {"x": "independent", "y": "independent"}}
  },
  {
    "width": 242, "height": 322,
    "layer": [
      {"data": {"name": "hatch"}, "mark": {"type": "rule", "color": "#bbbbbb", "strokeWidth": 1.5, "x2Offset": 10, "clip": true},
       "encoding": {"x": {"field": "i", "type": "quantitative", "scale": {"domain": [-0.7, 19], "nice": false, "zero": false}, "axis": null}, "x2": {"field": "i"},
        "y": {"datum": 1.878, "type": "quantitative", "scale": {"domain": [1.3, 4.7], "reverse": true, "nice": false, "zero": false}, "axis": null}, "y2": {"datum": 1.727}}},
      {"layer": [
        {"data": {"name": "hk"}, "mark": {"type": "circle", "size": 28, "opacity": 1},
         "encoding": {
          "x": {"field": "h", "type": "quantitative", "scale": {"domain": [-0.086, 2.0], "nice": false, "zero": false},
                "axis": {"orient": "bottom", "title": null, "values": [0,0.1,0.2,0.3,0.4,0.5,0.6,0.7,0.8,0.9,1.0,1.1,1.2,1.3,1.4,1.5,1.6,1.7,1.8,1.9,2.0], "labelExpr": "round(datum.value*10) % 5 == 0 ? format(datum.value, '.1f') : ''", "tickSize": {"condition": {"test": "round(datum.value*10) % 5 == 0", "value": -7}, "value": -4}, "labelPadding": 16}},
          "y": {"field": "depth", "type": "quantitative", "scale": {"domain": [1.3, 4.7], "reverse": true, "nice": false, "zero": false},
                "axis": {"orient": "left", "title": null, "labels": false, "values": [1.4,1.5,1.6,1.7,1.8,1.9,2.0,2.1,2.2,2.3,2.4,2.5,2.6,2.7,2.8,2.9,3.0,3.1,3.2,3.3,3.4,3.5,3.6,3.7,3.8,3.9,4.0,4.1,4.2,4.3,4.4,4.5,4.6], "tickSize": {"condition": {"test": "round(datum.value*10) % 5 == 0", "value": -7}, "value": -4}}},
          "color": {"field": "date", "type": "nominal", "scale": {"domain": ["08-09-24", "08-10-21"], "range": ["#000000", "#858585"]}, "legend": null}
         }},
        {"data": {"name": "hk"}, "mark": {"type": "point", "opacity": 0},
         "encoding": {
          "x": {"field": "h", "type": "quantitative", "scale": {"domain": [-0.086, 2.0], "nice": false, "zero": false},
                "axis": {"orient": "top", "title": null, "labels": false, "domainColor": "#999999", "values": [0,0.1,0.2,0.3,0.4,0.5,0.6,0.7,0.8,0.9,1.0,1.1,1.2,1.3,1.4,1.5,1.6,1.7,1.8,1.9,2.0], "tickSize": {"condition": {"test": "round(datum.value*10) % 5 == 0", "value": -7}, "value": -4}}},
          "y": {"field": "depth", "type": "quantitative", "scale": {"domain": [1.3, 4.7], "reverse": true, "nice": false, "zero": false},
                "axis": {"orient": "right", "title": null, "labels": false, "values": [1.4,1.5,1.6,1.7,1.8,1.9,2.0,2.1,2.2,2.3,2.4,2.5,2.6,2.7,2.8,2.9,3.0,3.1,3.2,3.3,3.4,3.5,3.6,3.7,3.8,3.9,4.0,4.1,4.2,4.3,4.4,4.5,4.6], "tickSize": {"condition": {"test": "round(datum.value*10) % 5 == 0", "value": -7}, "value": -4}}}
         }},
        {"data": {"values": [{}]}, "mark": {"type": "text", "fontSize": 21, "align": "right", "baseline": "alphabetic"},
         "encoding": {"x": {"datum": 1.87, "axis": null}, "y": {"datum": 4.571, "axis": null}, "text": {"value": "d)"}}},
        {"data": {"values": [{}]}, "mark": {"type": "text", "fontSize": 22, "align": "left", "baseline": "alphabetic"},
         "encoding": {"x": {"datum": 0.534, "axis": null}, "y": {"datum": 5.261, "axis": null}, "text": {"value": "H"}}},
        {"data": {"values": [{}]}, "mark": {"type": "text", "fontSize": 16, "align": "left", "baseline": "alphabetic"},
         "encoding": {"x": {"datum": 0.664, "axis": null}, "y": {"datum": 5.346, "axis": null}, "text": {"value": "Kelley"}}},
        {"data": {"values": [{}]}, "mark": {"type": "text", "fontSize": 22, "align": "left", "baseline": "alphabetic"},
         "encoding": {"x": {"datum": 1.095, "axis": null}, "y": {"datum": 5.261, "axis": null}, "text": {"value": "[m]"}}}
      ], "resolve": {"axis": {"x": "independent", "y": "independent"}}}
    ],
    "resolve": {"scale": {"x": "independent"}, "axis": {"x": "independent", "y": "independent"}}
  }
]
}
